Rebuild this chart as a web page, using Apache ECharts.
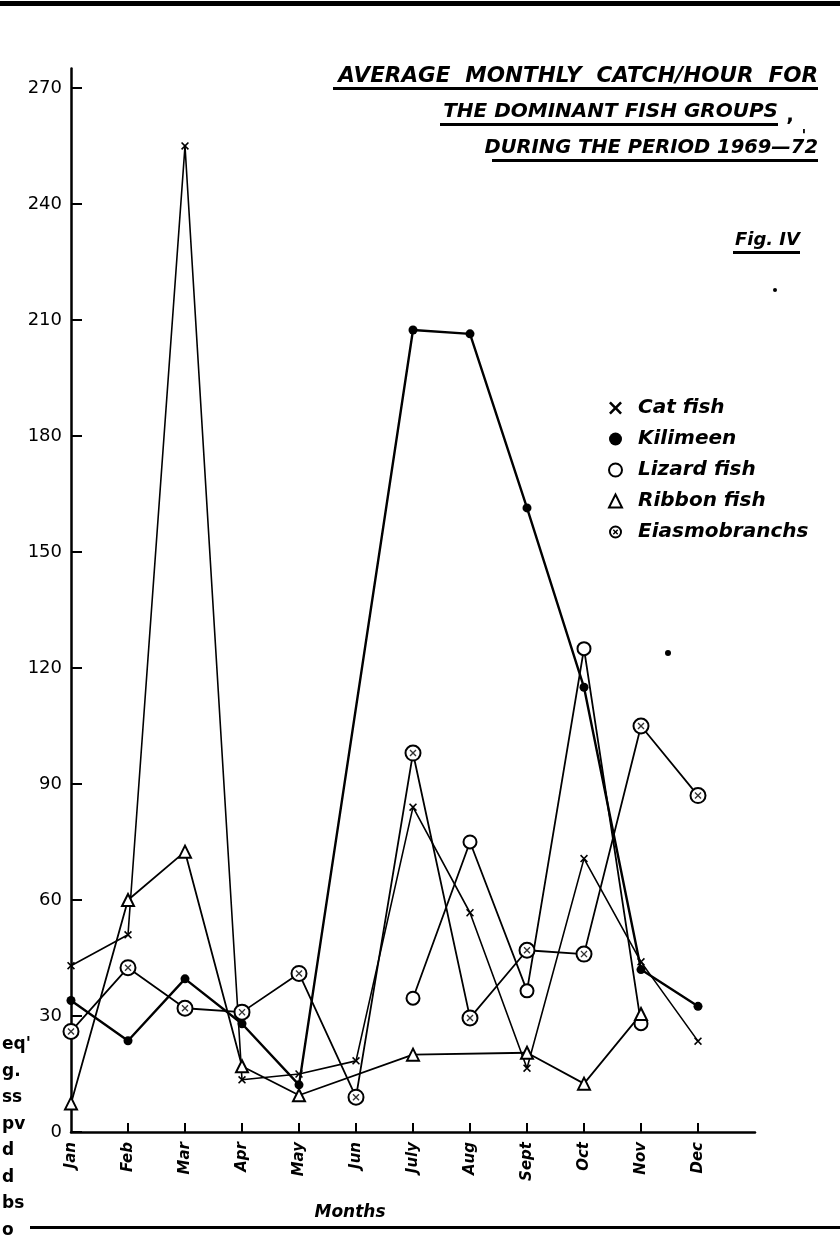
<!DOCTYPE html>
<html><head><meta charset="utf-8">
<script src="https://cdn.jsdelivr.net/npm/echarts@6/dist/echarts.min.js"></script>
<style>html,body{margin:0;padding:0;background:#fff}#c{width:840px;height:1247px}</style>
</head><body><div id="c"></div>
<script>
// ---- data ----
const months = ['Jan','Feb','Mar','Apr','May','Jun','July','Aug','Sept','Oct','Nov','Dec'];
const yTicks = [0,30,60,90,120,150,180,210,240,270];
const catFish      = [43, 51, 255, 13.5, 15, 18.4, 84, 56.7, 16.5, 70.7, 44, 23.5];
const kilimeen     = [34, 23.6, 39.6, 28, 12.2, null, 207.4, 206.4, 161.4, 115, 42, 32.5];
const lizardFish   = [null, null, null, null, null, null, 34.6, 75, 36.5, 125, 28, null];
const ribbonFish   = [7.4, 60, 72.5, 17, 9.5, null, 20, null, 20.5, 12.5, 30.5, null];
const elasmobranchs= [26, 42.5, 32, 31, 41, 9, 98, 29.5, 47, 46, 105, 87];
const seriesNames = ['Cat fish','Kilimeen','Lizard fish','Ribbon fish','Eiasmobranchs'];
const titleLines = ['AVERAGE  MONTHLY  CATCH/HOUR  FOR','THE DOMINANT FISH GROUPS','DURING THE PERIOD 1969\u201472'];
const figLabel = 'Fig. IV';
const xName = 'Months';
const marginBits = ["eq'", 'g.', 'ss', 'pv', 'd', 'd', 'bs', 'o'];

// ---- symbols ----
const X_PATH = 'path://M0,1.4L1.4,0L5,3.6L8.6,0L10,1.4L6.4,5L10,8.6L8.6,10L5,6.4L1.4,10L0,8.6L3.6,5Z';
const RINGX_PATH = 'path://M10,0A10,10,0,1,1,10,20A10,10,0,1,1,10,0ZM10,3A7,7,0,1,0,10,17A7,7,0,1,0,10,3ZM5.8,7.4L7.4,5.8L10,8.4L12.6,5.8L14.2,7.4L11.6,10L14.2,12.6L12.6,14.2L10,11.6L7.4,14.2L5.8,12.6L8.4,10Z';

const FONT = 'DejaVu Sans';
const chart = echarts.init(document.getElementById('c'), null, {renderer: 'canvas'});

function titleText(x, y, text, size, align) {
  return {type: 'text', x: x, y: y, style: {text: text, font: 'italic bold ' + size + 'px "' + FONT + '"', fill: '#000', textAlign: align || 'right', textVerticalAlign: 'middle'}};
}
function rule(x1, x2, y, h) {
  return {type: 'rect', shape: {x: x1, y: y, width: x2 - x1, height: h || 3}, style: {fill: '#000'}};
}

const graphics = [
  titleText(818, 76, titleLines[0], 21.5),
  rule(333, 818, 87),
  titleText(778, 112, titleLines[1], 20),
  rule(440, 778, 123),
  {type: 'text', x: 790, y: 116, style: {text: ',', font: 'bold 20px "' + FONT + '"', fill: '#000', textAlign: 'center', textVerticalAlign: 'middle'}},
  titleText(818, 148, titleLines[2], 19.5),
  rule(492, 818, 159),
  {type: 'text', x: 804, y: 137, style: {text: "'", font: 'bold 16px "' + FONT + '"', fill: '#000', textAlign: 'center', textVerticalAlign: 'middle'}},
  titleText(800, 240, figLabel, 18),
  rule(733, 800, 251),
  {type: 'text', x: 350, y: 1213, style: {text: xName, font: 'italic bold 17px "' + FONT + '"', fill: '#000', textAlign: 'center', textVerticalAlign: 'middle'}},
  rule(0, 840, 1, 5),
  rule(30, 840, 1226, 3),
  {type: 'circle', shape: {cx: 668, cy: 653, r: 3}, style: {fill: '#000'}},
  {type: 'circle', shape: {cx: 775, cy: 290, r: 2}, style: {fill: '#000'}}
];
marginBits.forEach((t, i) => {
  graphics.push({type: 'text', x: 2, y: 1045 + i * 26.5, style: {text: t, font: 'bold 17px "' + FONT + '"', fill: '#000', textAlign: 'left', textVerticalAlign: 'middle'}});
});

const baseLine = (name, data, symbol, size, width, extra) => Object.assign({
  name: name, type: 'line', data: data, symbol: symbol, symbolSize: size,
  connectNulls: true, showAllSymbol: true,
  lineStyle: {color: '#000', width: width},
  itemStyle: {color: '#000', borderWidth: 1.8},
  emphasis: {disabled: true}, z: 3
}, extra || {});

const option = {
  animation: false,
  backgroundColor: '#fff',
  grid: {left: 71, right: 85, top: 68.6, bottom: 115, containLabel: false},
  xAxis: {
    type: 'category', boundaryGap: false,
    data: months.concat(['']),
    axisLine: {lineStyle: {color: '#000', width: 2.5}},
    axisTick: {show: true, inside: true, length: 9, lineStyle: {color: '#000', width: 2}, interval: (i) => i > 0 && i < 12},
    axisLabel: {rotate: 90, interval: 0, margin: 10, color: '#000', fontSize: 15, fontWeight: 'bold', fontStyle: 'italic', fontFamily: FONT},
    splitLine: {show: false}
  },
  yAxis: {
    type: 'value', min: 0, max: 275, interval: 30,
    axisLine: {show: true, lineStyle: {color: '#000', width: 2.5}},
    axisTick: {show: true, inside: true, length: 11, lineStyle: {color: '#000', width: 2}, customValues: yTicks},
    axisLabel: {color: '#000', fontSize: 18, fontFamily: FONT, margin: 9, customValues: yTicks},
    splitLine: {show: false}
  },
  legend: {
    orient: 'vertical', left: 603, top: 391, itemWidth: 13, itemHeight: 13, itemGap: 7,
    textStyle: {color: '#000', fontSize: 20, fontWeight: 'bold', fontStyle: 'italic', fontFamily: FONT, lineHeight: 24, padding: [0, 0, 0, 11]},
    data: [
      {name: seriesNames[0], icon: X_PATH},
      {name: seriesNames[1], icon: 'circle'},
      {name: seriesNames[2], icon: 'emptyCircle'},
      {name: seriesNames[3], icon: 'emptyTriangle'},
      {name: seriesNames[4], icon: RINGX_PATH}
    ],
    selectedMode: false
  },
  series: [
    baseLine(seriesNames[0], catFish, X_PATH, 8, 1.6),
    baseLine(seriesNames[1], kilimeen, 'circle', 9, 2.4),
    baseLine(seriesNames[2], lizardFish, 'emptyCircle', 13, 1.8, {itemStyle: {color: '#000', borderWidth: 2}}),
    baseLine(seriesNames[3], ribbonFish, 'emptyTriangle', 12, 1.8, {itemStyle: {color: '#000', borderWidth: 2}}),
    baseLine(seriesNames[4], elasmobranchs, 'emptyCircle', 15, 1.8, {itemStyle: {color: '#000', borderWidth: 2}}),
    {name: 'elasmoMark', type: 'scatter', data: elasmobranchs, symbol: X_PATH, symbolSize: 7, itemStyle: {color: '#000'}, silent: true, z: 5}
  ],
  graphic: graphics
};
chart.setOption(option);
</script></body></html>
